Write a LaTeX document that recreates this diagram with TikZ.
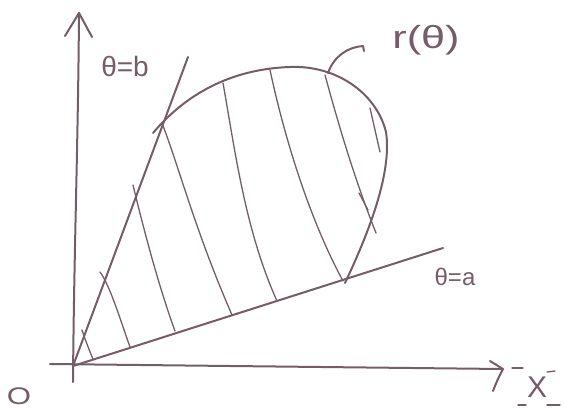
\documentclass[tikz,border=0pt]{standalone}
\usepackage{fontspec}
\setmainfont{Liberation Sans}
\definecolor{sketch}{RGB}{118,92,104}
\begin{document}
\begin{tikzpicture}[x=1pt,y=-1pt,
  pen/.style={draw=sketch,line width=2pt,line cap=round,line join=round},
  hatch/.style={draw=sketch,line width=1.3pt,line cap=round},
  lbl/.style={text=sketch,inner sep=0pt}]
\useasboundingbox (0,0) rectangle (564,408);
% key points
\coordinate (O) at (73,366);
\coordinate (ytop) at (79,13);
\coordinate (ybot) at (73,382);
\coordinate (xleft) at (50,364);
\coordinate (xtip) at (503,369);
\coordinate (bend) at (188,57);
\coordinate (aend) at (443,248);
\coordinate (cstart) at (153,133);
\coordinate (ctop) at (290,67);
\coordinate (cright) at (386,132);
\coordinate (cend) at (345,283);
% axes
\draw[pen] (ybot) .. controls (74,250) and (78,150) .. (ytop);
\draw[pen] (65,36) -- (ytop) -- (92,37);
\draw[pen] (xleft) -- (xtip);
\draw[pen] (490,361) -- (xtip) .. controls (498,378) and (495,386) .. (493,391);
% rays
\draw[pen] (O) -- (bend);
\draw[pen] (O) -- (aend);
% curve r(theta)
\draw[pen] (cstart) .. controls (185,95) and (230,69) .. (ctop)
  .. controls (335,65) and (376,92) .. (cright)
  .. controls (392,172) and (370,230) .. (cend);
% hatching
\draw[hatch] (82,330) .. controls (86,342) and (90,352) .. (93,359);
\draw[hatch] (100,272) .. controls (110,285) and (122,325) .. (130,347);
\draw[hatch] (133,185) .. controls (145,235) and (160,290) .. (175,331);
\draw[hatch] (162,123) .. controls (180,170) and (195,230) .. (232,315);
\draw[hatch] (223,83) .. controls (235,150) and (245,230) .. (277,301);
\draw[hatch] (270,70) .. controls (285,140) and (310,220) .. (343,281);
\draw[hatch] (325,75) .. controls (340,130) and (355,180) .. (376,233);
\draw[hatch] (370,108) -- (380,152);
\draw[hatch] (359,193) -- (368,210);
% leader for r(theta)
\draw[pen] (328,73) .. controls (334,56) and (348,47) .. (363,46) -- (364,51);
% labels
\node[lbl] (rlab) at (426,40) {\fontsize{32}{32}\selectfont\scalebox{1.35}[1]{r(θ)}};
\node[lbl] (blab) at (125,66) {\fontsize{28}{28}\selectfont θ=b};
\node[lbl] (alab) at (455,277) {\fontsize{24}{24}\selectfont θ=a};
\node[lbl] (olab) at (19,396) {\fontsize{24}{24}\selectfont\scalebox{1.3}[1]{O}};
\node[lbl] (xlab) at (537,387) {\fontsize{30}{30}\selectfont X};
\draw[hatch] (512,368) -- (523,368);
\draw[hatch] (547,372) -- (555,371);
\draw[hatch] (518,405) -- (526,405);
\draw[hatch] (547,405) -- (560,405);
\end{tikzpicture}
\end{document}
